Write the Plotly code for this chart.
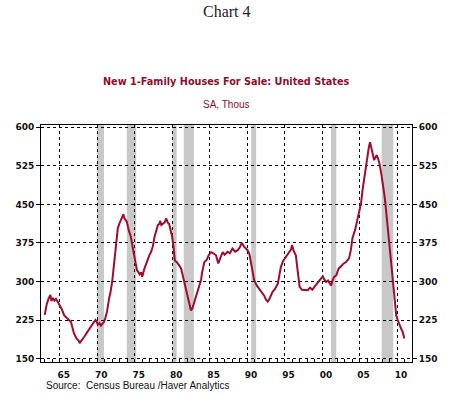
import plotly.graph_objects as go

# Data (decimal year, thousands of units, SA)
years = [1963.0, 1963.25, 1963.5, 1963.75, 1963.9, 1964.1, 1964.3, 1964.5, 1964.75, 1965.0,
         1965.3, 1965.6, 1965.9, 1966.1, 1966.5, 1966.7, 1966.9, 1967.2, 1967.5, 1967.65,
         1967.9, 1968.3, 1968.6, 1969.0, 1969.4, 1969.75, 1969.9, 1970.1, 1970.3, 1970.5,
         1970.7, 1970.9, 1971.1, 1971.3, 1971.6, 1971.75, 1972.0, 1972.3, 1972.5, 1972.75,
         1973.0, 1973.2, 1973.4, 1973.5, 1973.6, 1973.8, 1973.95, 1974.2, 1974.5, 1974.75,
         1975.0, 1975.3, 1975.5, 1975.65, 1975.85, 1976.0, 1976.3, 1976.6, 1976.95, 1977.2,
         1977.4, 1977.65, 1977.9, 1978.1, 1978.3, 1978.4, 1978.55, 1978.75, 1979.0, 1979.2,
         1979.4, 1979.6, 1979.8, 1980.0, 1980.2, 1980.35, 1980.6, 1980.8, 1981.0, 1981.2,
         1981.4, 1981.6, 1981.9, 1982.1, 1982.3, 1982.5, 1982.7, 1982.95, 1983.2, 1983.5,
         1983.7, 1983.85, 1984.0, 1984.3, 1984.6, 1984.9, 1985.2, 1985.5, 1985.85, 1986.15,
         1986.4, 1986.75, 1987.0, 1987.4, 1987.7, 1988.05, 1988.4, 1988.75, 1989.0, 1989.3,
         1989.6, 1989.85, 1990.1, 1990.3, 1990.6, 1990.95, 1991.3, 1991.6, 1991.9, 1992.1,
         1992.3, 1992.5, 1992.75, 1993.0, 1993.4, 1993.7, 1994.1, 1994.3, 1994.5, 1994.8,
         1995.2, 1995.5, 1995.65, 1995.85, 1996.0, 1996.2, 1996.5, 1996.7, 1997.0, 1997.3,
         1997.7, 1998.1, 1998.4, 1998.7, 1999.0, 1999.3, 1999.6, 1999.85, 2000.1, 2000.3,
         2000.55, 2000.8, 2001.0, 2001.2, 2001.4, 2001.6, 2001.9, 2002.2, 2002.5, 2002.8,
         2003.2, 2003.4, 2003.6, 2003.85, 2004.05, 2004.4, 2004.7, 2004.95, 2005.2, 2005.4,
         2005.7, 2005.9, 2006.05, 2006.25, 2006.4, 2006.55, 2006.75, 2006.95, 2007.1, 2007.3,
         2007.5, 2007.65, 2007.9, 2008.1, 2008.3, 2008.45, 2008.6, 2008.8, 2009.0, 2009.2,
         2009.45, 2009.7, 2009.9, 2010.1, 2010.3, 2010.5, 2010.75, 2010.97]
houses_for_sale = [235, 255, 266, 274, 262, 268, 263, 266, 260, 254,
                   245, 234, 230, 228, 221, 210, 199, 190, 185, 180,
                   186, 193, 200, 208, 216, 225, 222, 216, 219, 214,
                   218, 221, 230, 241, 268, 277, 300, 345, 375, 404,
                   414, 420, 425, 431, 424, 420, 416, 400, 386, 365,
                   345, 322, 318, 314, 318, 309, 325, 338, 351, 358,
                   367, 387, 400, 410, 412, 418, 410, 413, 415, 423,
                   415, 412, 400, 387, 365, 341, 338, 335, 330, 325,
                   312, 299, 282, 268, 255, 244, 248, 260, 275, 290,
                   300, 303, 318, 338, 342, 352, 357, 355, 351, 335,
                   345, 357, 352, 358, 355, 364, 358, 361, 366, 375,
                   368, 364, 360, 354, 332, 302, 292, 286, 280, 276,
                   272, 265, 261, 267, 280, 285, 296, 312, 328, 340,
                   348, 353, 357, 362, 371, 360, 351, 325, 290, 284,
                   283, 283, 288, 284, 290, 295, 300, 305, 310, 304,
                   299, 302, 296, 292, 302, 309, 312, 325, 329, 334,
                   338, 342, 345, 362, 384, 400, 419, 440, 452, 478,
                   510, 532, 549, 562, 571, 560, 552, 536, 541, 546,
                   538, 530, 510, 494, 470, 452, 430, 400, 358, 328,
                   296, 260, 234, 225, 215, 210, 202, 189]

recession_start = [1969.95, 1973.95, 1980.05, 1981.55, 1990.55, 2001.2, 2007.95]
recession_end = [1970.9, 1975.2, 1980.6, 1982.9, 1991.2, 2001.9, 2009.5]

x_tick_years = [1965, 1970, 1975, 1980, 1985, 1990, 1995, 2000, 2005, 2010]
x_tick_labels = ["65", "70", "75", "80", "85", "90", "95", "00", "05", "10"]
y_ticks = [150, 225, 300, 375, 450, 525, 600]

LINE = "#A00C30"
TXT_RED = "#8E0E2E"
FONT = "Liberation Sans, Arial, sans-serif"
WIDE = "DejaVu Sans, Verdana, sans-serif"

fig = go.Figure()
fig.add_trace(go.Scatter(x=years, y=houses_for_sale, mode="lines",
                         line=dict(color=LINE, width=2), showlegend=False,
                         hoverinfo="skip"))
fig.add_trace(go.Scatter(x=years, y=houses_for_sale, mode="lines", yaxis="y2",
                         line=dict(color="rgba(0,0,0,0)", width=0), showlegend=False,
                         hoverinfo="skip"))

for s, e in zip(recession_start, recession_end):
    fig.add_shape(type="rect", xref="x", yref="paper", x0=s, x1=e, y0=0, y1=1,
                  fillcolor="#C8C8C8", line=dict(width=0), layer="below")

tickfont = dict(family=WIDE, size=9, color="#111111", weight="bold")

fig.update_layout(
    width=455, height=394,
    margin=dict(l=41, r=43, t=125, b=32, pad=0),
    paper_bgcolor="white", plot_bgcolor="white",
    hovermode=False,
    xaxis=dict(range=[1962.5, 2012.0], tickvals=x_tick_years, ticktext=x_tick_labels,
               ticklabelshift=4, ticklabelstandoff=4, tickfont=tickfont,
               showgrid=True, gridcolor="black", gridwidth=1, griddash="3px,3px",
               showline=True, linecolor="black", linewidth=1, mirror=True,
               ticks="inside", ticklen=3, tickcolor="black",
               minor=dict(dtick=1, tick0=1960, ticks="inside", ticklen=3, tickcolor="black",
                          showgrid=False),
               zeroline=False),
    yaxis=dict(range=[143.4, 604.5], tickvals=y_ticks, tickfont=tickfont,
               showgrid=True, gridcolor="black", gridwidth=1, griddash="3px,3px",
               showline=True, linecolor="black", linewidth=1, mirror=True,
               ticks="outside", ticklen=4, tickcolor="black", zeroline=False),
    yaxis2=dict(range=[143.4, 604.5], tickvals=y_ticks, tickfont=tickfont,
                overlaying="y", side="right", matches="y", showgrid=False,
                showline=False, ticks="outside", ticklen=4, tickcolor="black",
                zeroline=False),
    annotations=[
        dict(text="Chart 4", xref="paper", yref="paper", x=0.5, y=1.477,
             xanchor="center", yanchor="middle", showarrow=False,
             font=dict(family="Liberation Serif, Times New Roman, serif", size=16, color="#222222")),
        dict(text="<b>New 1-Family Houses For Sale: United States</b>", xref="paper", yref="paper",
             x=0.5, y=1.1817, xanchor="center", yanchor="middle", showarrow=False,
             font=dict(family=WIDE, size=9.7, color=TXT_RED)),
        dict(text="SA, Thous", xref="paper", yref="paper", x=0.5, y=1.0883,
             xanchor="center", yanchor="middle", showarrow=False,
             font=dict(family=FONT, size=10, color=TXT_RED)),
        dict(text="Source:  Census Bureau /Haver Analytics", xref="paper", yref="paper",
             x=0.007, y=-0.0984, xanchor="left", yanchor="middle", showarrow=False,
             font=dict(family=FONT, size=10, color="#111111")),
    ],
)

fig.write_html("out.html", config={"displayModeBar": False},
               post_script="document.body.style.margin='0';document.body.style.padding='0';")
